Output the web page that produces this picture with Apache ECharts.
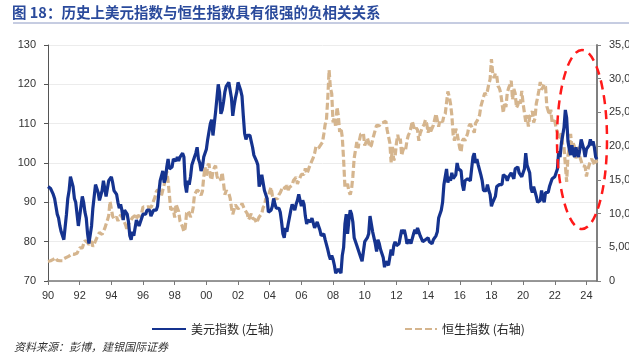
<!DOCTYPE html>
<html><head><meta charset="utf-8">
<script src="https://cdn.jsdelivr.net/npm/echarts@6/dist/echarts.min.js"></script>
<style>html,body{margin:0;padding:0;background:#fff}#c{width:629px;height:355px}</style>
</head><body><div id="c"></div>
<script>
// Monthly values, Jan 1990 .. Sep 2024
const dxyByYear = [
 [94,94.5,93.5,94,92,91,89,87,86,84,82.5,81.5],            // 1990
 [80.5,81,87,91,93,96.5,97,94,91,90,87,84],                // 1991
 [83.5,89,91.5,90,87.5,86,82,79.5,79,84,88.5,89],          // 1992
 [94.5,95,92.5,90.5,91,93,95.5,93.5,91.5,93.5,95.5,96],    // 1993
 [96.5,95,93,92.5,92,90,88.5,89.5,88,85.5,88,88.5],        // 1994
 [87,85,81.5,80.5,82.5,81.5,82,85.5,85,84,85,85.5],        // 1995
 [87,86.5,87,88,88.5,88,86.5,87,88,88.5,88,89],            // 1996
 [92.5,95.5,96,98,95,96,99,101,98.5,98,99,101],            // 1997
 [101,100.5,101.5,100.5,101.5,102,102.5,101.5,94.5,92.5,95.5,94.5], // 1998
 [96.5,99.5,100.5,101.5,102.5,104,101,100,98,99,101.5,101],// 1999
 [103.5,106,106.5,110,111,107,110,113,116.5,120,118,112.5],// 2000
 [113.5,115.5,118,119.5,119,120.5,121,116.5,112,114.5,116.5,118], // 2001
 [120.5,120,118.5,117,112,107.5,106,107,107.5,107,106.5,104], // 2002
 [102,101.5,100.5,99.5,94,95,97,97.5,93,92,91,87.5],       // 2003
 [87,88,89,91,89.5,88.5,89,88.5,87.5,85,82,81],            // 2004
 [83.5,82.5,84.5,85,88,89.5,89,88,89.5,90.5,92,90.5],      // 2005
 [89,90.5,89.5,86.5,84.5,85.5,85,85,86,86.5,83.5,83.5],    // 2006
 [85,84,83,81.5,82,82,80.5,81,78,76.5,75.5,76.5],          // 2007
 [75.5,74,72,72.5,73,72.5,72,76.5,78.5,84.5,87,82],        // 2008
 [85.5,88,87,85,81,80.5,79,78.5,77,76,75,77.5],            // 2009
 [80,80.5,81,82,86.5,87,82.5,83,79.5,77.5,80.5,79.5],      // 2010
 [78,77,76,73.5,75,74.5,74,74,78,76.5,79,80],              // 2011
 [79,79,79.5,79,83,82,83,81.5,79.5,80,80.5,79.5],          // 2012
 [79.5,82,83,82,83.5,82.5,81.5,82,80,79.5,80.5,80],        // 2013
 [81,80,80,79.5,80.5,80,81.5,82.5,86,86.5,88,90],          // 2014
 [94.5,95,98.5,95,96.5,95.5,97.5,96,96,97,100,98.5],       // 2015
 [99,98,94.5,93,95.5,96,96,96,95.5,98.5,101.5,102.5],      // 2016
 [100,101,99.5,99,97,95.5,93,92.5,93,94.5,93,92],          // 2017
 [89,90,89.5,91.5,94,94.5,94.5,95,94.5,97,97,96.5],        // 2018
 [95.5,96.5,97,97.5,97.5,96,98.5,98.5,99,97.5,98,96.5],    // 2019
 [97.5,98.5,102.5,99.5,98.5,97.5,93.5,92.5,94,94,91.5,90], // 2020
 [90.5,90.5,93,91,90,92.5,92,92.5,94,94,96,95.5],          // 2021
 [96.5,96.5,98.5,103,101.5,105,105.5,109,113.5,111.5,105.5,103.5], // 2022
 [102,104.5,102.5,101.5,104,102.5,101.5,103.5,106,106.5,103.5,101.5], // 2023
 [103.5,104,104.5,106,104.5,105.5,104,101.5,101]           // 2024
];
const hsiByYear = [
 [2900,2800,3000,3050,3200,3300,3450,3050,2900,3000,3050,3000],
 [3300,3450,3500,3550,3700,3800,4000,4050,3950,4150,4100,4300],
 [4900,5000,4900,5500,6000,5900,5700,5400,5600,5900,5100,5500],
 [5600,6400,6800,7200,7300,6900,7100,7800,7700,9000,9700,11800],
 [10700,9600,9200,9400,9500,8900,9400,9800,9500,9600,8700,8200],
 [7500,8400,8700,8600,9400,9200,9700,9200,9700,9700,9600,10100],
 [11000,11200,10900,11000,11000,10900,10900,11300,11900,12400,13200,13500],
 [13400,13300,12700,12700,14300,15200,16300,14800,15000,10600,10600,10700],
 [9400,11400,11500,10300,8900,8500,8000,7300,7900,10100,10400,10000],
 [9500,9900,10900,12800,12800,13500,13400,13200,12700,13300,15400,16900],
 [15500,17100,17400,15500,15000,16200,16800,17100,15600,14900,14700,15100],
 [16100,14500,12800,13400,13200,13000,12300,10900,9900,10100,11300,11400],
 [10700,10500,11000,11500,11300,10600,10300,10000,9100,9500,10000,9300],
 [9200,9100,8600,8700,9500,9600,10000,10900,11200,12200,12300,12500],
 [13300,13900,12700,11900,12200,12100,12200,12800,13100,13000,14000,14200],
 [13700,14200,13500,13900,13900,14200,14900,14900,15400,14400,14900,14900],
 [15800,15900,15800,16700,15900,16300,16900,17400,17500,18300,18900,19900],
 [20100,19700,19800,20300,20600,21800,23200,23900,27100,31300,28600,27800],
 [23500,24300,22800,25800,24500,22100,22700,21300,18000,13900,13900,14400],
 [13300,12800,13600,15500,18200,18400,20600,19700,20900,21800,21800,21900],
 [20100,20600,21200,21100,19800,20100,21000,21000,22400,23100,23000,23000],
 [23400,23300,23500,23700,23700,22400,22400,20500,17600,19900,17900,18400],
 [20400,21700,20600,21100,18600,19400,19800,19500,20800,21600,22000,22700],
 [23700,23000,22300,22700,22400,20800,21900,22000,22900,23200,23900,23300],
 [22000,22800,22200,22100,23100,23200,24800,24700,22900,23900,23900,23600],
 [24500,24800,24900,28100,27400,26300,24600,21700,20800,22600,21900,21900],
 [19700,19100,20800,21100,20800,20800,21900,23000,23300,22900,22800,22000],
 [23400,23700,24100,24600,25900,25800,27300,27900,27600,28200,29200,29900],
 [32900,30800,30100,30800,30500,28900,28600,27900,27800,24900,26500,25800],
 [27900,28600,29100,29700,26900,28500,27800,25700,26100,26900,26300,28200],
 [26300,26100,23600,24600,22900,24400,24600,25200,23500,24100,26300,27200],
 [28300,29500,28400,28700,29200,28800,25900,25900,24600,25400,23500,23400],
 [23800,22700,22000,21100,21400,21900,20200,19900,17200,14700,18600,19800],
 [21800,19800,20400,19900,18200,18900,20100,18400,17800,17100,17000,17000],
 [15500,16500,16500,17800,18100,17700,17300,17900,17500]
];
const startYear = 1990;
const leftTicks = [70, 80, 90, 100, 110, 120, 130];
const rightTicks = [0, 5000, 10000, 15000, 20000, 25000, 30000, 35000];
const seriesNames = ['美元指数 (左轴)', '恒生指数 (右轴)'];
const titleText = '图 18：历史上美元指数与恒生指数具有很强的负相关关系';
const sourceText = '资料来源：彭博，建银国际证券';

const dxy = dxyByYear.flat();
const hsi = hsiByYear.flat();
const months = [];
dxyByYear.forEach((row, yi) => row.forEach((v, mi) => {
  months.push((startYear + yi) + '-' + String(mi + 1).padStart(2, '0'));
}));

const BLUE = '#15338f', TAN = '#d5b58e', FONT = 'Liberation Sans, Arial, sans-serif';
const chart = echarts.init(document.getElementById('c'), null, {renderer: 'canvas'});
chart.setOption({
  animation: false,
  textStyle: {fontFamily: FONT},
  grid: {left: 48, right: 32, top: 45, bottom: 74, containLabel: false, outerBoundsMode: 'none'},
  legend: [
    {data: [seriesNames[0]], left: 146, top: 318, itemWidth: 34, itemHeight: 12, itemGap: 3,
     itemStyle: {opacity: 0},
     textStyle: {fontSize: 12, color: '#222', fontFamily: 'Noto Sans CJK SC'}},
    {data: [seriesNames[1]], left: 399, top: 318, itemWidth: 32, itemHeight: 12, itemGap: 3,
     itemStyle: {opacity: 0},
     textStyle: {fontSize: 12, color: '#222', fontFamily: 'Noto Sans CJK SC'}}
  ],
  xAxis: {
    type: 'category', data: months, boundaryGap: false,
    axisLine: {lineStyle: {color: '#777', width: 1.5}},
    axisTick: {interval: (i) => i % 24 === 0, length: 4, lineStyle: {color: '#777'}},
    axisLabel: {interval: (i) => i % 24 === 0, formatter: (v) => v.slice(2, 4),
      fontSize: 11, color: '#333', margin: 9},
    splitLine: {show: false}
  },
  yAxis: [
    {type: 'value', min: 70, max: 130, interval: 10,
     axisLine: {show: true, lineStyle: {color: '#555', width: 1}},
     axisTick: {show: true, length: 4, lineStyle: {color: '#555'}},
     axisLabel: {fontSize: 11, color: '#333', margin: 12},
     splitLine: {show: true, lineStyle: {color: '#ececec', width: 1}}},
    {type: 'value', min: 0, max: 35000, interval: 5000, position: 'right',
     axisLine: {show: true, lineStyle: {color: '#808080', width: 2}},
     axisTick: {show: true, length: 4, lineStyle: {color: '#808080'}},
     axisLabel: {fontSize: 11, color: '#333', margin: 12,
       formatter: (v) => v === 0 ? '0' : v.toLocaleString('en-US')},
     splitLine: {show: false}}
  ],
  series: [
    {name: seriesNames[1], type: 'line', yAxisIndex: 1, data: hsi, symbol: 'none',
     lineStyle: {color: TAN, width: 3.2, type: [7, 3]}, itemStyle: {color: TAN}, z: 2},
    {name: seriesNames[0], type: 'line', yAxisIndex: 0, data: dxy, symbol: 'none',
     lineStyle: {color: BLUE, width: 3.2}, itemStyle: {color: BLUE}, z: 3}
  ],
  graphic: [
    {type: 'text', left: 12, top: 5, style: {text: titleText, fontSize: 14.5, fontWeight: 'bold',
      fill: '#2a4a9c', fontFamily: 'Noto Sans CJK SC'}},
    {type: 'line', shape: {x1: 13, y1: 23, x2: 629, y2: 23}, style: {stroke: '#8d9ac4', lineWidth: 1}},
    {type: 'text', left: 14, top: 341, style: {text: sourceText, fontSize: 11, fontStyle: 'italic',
      fill: '#333', fontFamily: 'Noto Sans CJK SC'}},
    {type: 'ellipse', shape: {cx: 582, cy: 139.5, rx: 25, ry: 89.5}, z: 100,
     style: {fill: 'none', stroke: '#ff1a1a', lineWidth: 2.5, lineDash: [9, 6]}}
  ]
});
</script></body></html>
